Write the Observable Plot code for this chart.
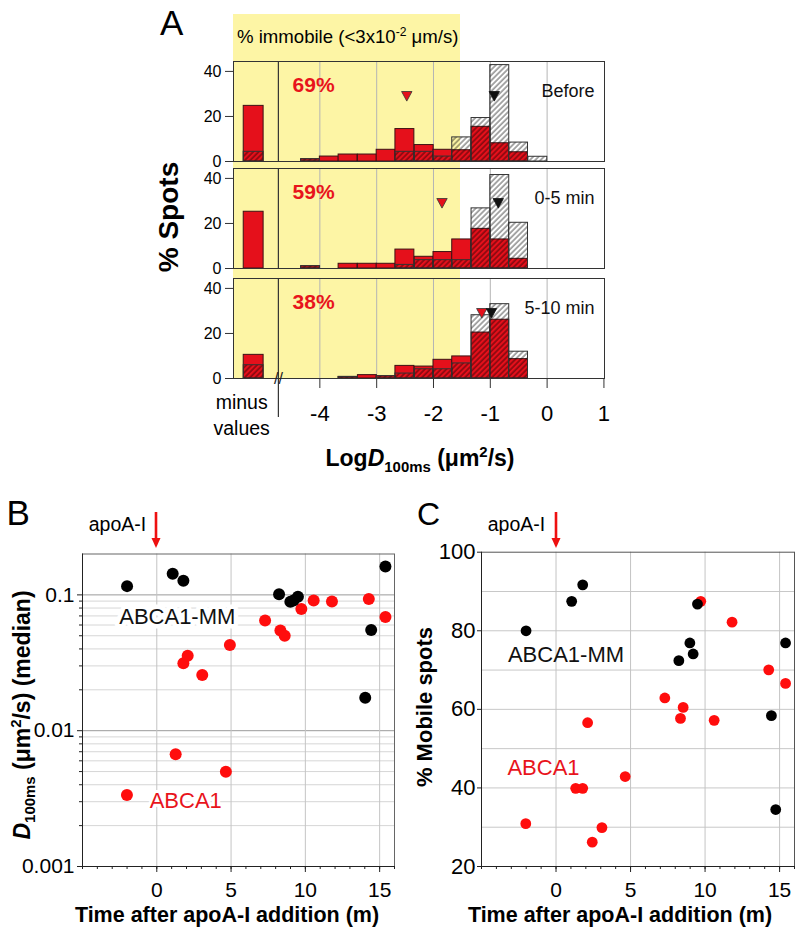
<!DOCTYPE html>
<html><head><meta charset="utf-8">
<script src="https://cdn.jsdelivr.net/npm/d3@7"></script>
<script src="https://cdn.jsdelivr.net/npm/@observablehq/plot@0.6"></script>
<style>
body{margin:0;background:#fff;font-family:"Liberation Sans",Arial,Helvetica,sans-serif;}
#root{position:relative;width:796px;height:932px;overflow:hidden;background:#fff;}
.lab{position:absolute;line-height:1;white-space:nowrap;color:#000;}
sub,sup{font-size:0.65em;line-height:0;}
</style></head><body><div id="root"></div>
<script>
// ================= DATA =================
// Panel A: histogram of log D (bins of 1/3 log unit), % of spots
const binStarts = [-4.33,-4,-3.67,-3.33,-3,-2.67,-2.33,-2,-1.67,-1.33,-1,-0.67,-0.33];
const periods = ["Before","0-5 min","5-10 min"];
const immobilePct = ["69%","59%","38%"];
// "minus values" bar (ABCA1 solid red, ABCA1-MM hatched)
const abca1Minus = [24.7, 25.2, 10.5];
const mmMinus = [4.3, 0, 5.9];
// ABCA1 (solid red)
const abca1Before = [1.0, 2.2, 3.1, 3.1, 5.2, 14.4, 7.3, 5.2, 5.0, 15.4, 8.1, 4.1, 0];
const abca1Early  = [1.0, 0, 2.1, 2.1, 2.1, 8.4, 5.2, 7.3, 12.9, 17.6, 12.9, 4.3, 0];
const abca1Late   = [0, 0, 0.7, 1.5, 1.0, 5.6, 5.3, 8.3, 9.8, 20.4, 26.1, 8.6, 0];
// ABCA1-MM (hatched)
const mmBefore = [1.0, 0, 0, 0, 0, 4.3, 4.3, 2.2, 10.7, 19.3, 42.8, 8.4, 2.1];
const mmEarly  = [1.0, 0, 0, 0, 0, 1.6, 3.7, 3.7, 3.7, 26.7, 41.5, 20.3, 0];
const mmLate   = [0, 0, 0.7, 0, 1.0, 2.2, 4.1, 4.1, 6.7, 28.1, 33.0, 11.9, 0];
// median markers (log D)
const medianABCA1 = [-2.47, -1.85, -1.15];
const medianMM = [-0.93, -0.86, -0.98];
const immobileCut = Math.log10(0.03);
const xTicksA = [-4, -3, -2, -1, 0, 1];
const gridA = [-4, -3, -2, -1, 0];
const yTicksA = [0, 20, 40];

// Panel B: median D100ms vs time
const bBlackT = [-2.0, 1.07, 1.79, 8.23, 8.99, 9.2, 9.5, 14.03, 14.43, 15.39];
const bBlackD = [0.116, 0.143, 0.127, 0.101, 0.089, 0.091, 0.097, 0.0175, 0.0552, 0.162];
const bRedT = [-2.01, 1.27, 1.79, 2.08, 3.06, 4.65, 4.92, 7.29, 8.32, 8.61, 9.73, 10.56, 11.79, 14.27, 15.39];
const bRedD = [0.00336, 0.0067, 0.0314, 0.0357, 0.0257, 0.00499, 0.0428, 0.0647, 0.0546, 0.0501, 0.0788, 0.0908, 0.0893, 0.0934, 0.0686];
const bMajorY = [0.001, 0.01, 0.1];
const bMinorY = [0.002,0.003,0.004,0.005,0.006,0.007,0.008,0.009,0.02,0.03,0.04,0.05,0.06,0.07,0.08,0.09];

// Panel C: % mobile spots vs time
const cBlackT = [-2.01, 1.05, 1.79, 8.24, 8.98, 9.2, 9.49, 14.45, 14.74, 15.4];
const cBlackP = [80.0, 87.5, 91.7, 72.4, 76.9, 74.1, 86.8, 58.4, 34.5, 76.9];
const cRedT = [-2.03, 1.32, 1.79, 2.12, 2.43, 3.08, 4.64, 7.3, 8.35, 8.53, 9.71, 10.61, 11.81, 14.27, 15.4];
const cRedP = [30.9, 39.9, 39.9, 56.6, 26.2, 29.9, 42.9, 62.9, 57.7, 60.5, 87.5, 57.2, 82.2, 70.05, 66.6];
const cTicksY = [20, 40, 60, 80, 100];
const cGridY = [30, 40, 50, 60, 70, 80, 90];

const timeTicks = [0, 5, 10, 15];
const timeMinor = [-5,-4,-3,-2,-1,0,1,2,3,4,5,6,7,8,9,10,11,12,13,14,15,16];

// ================= LAYOUT / STYLE =================
const FONT = '"Liberation Sans", Arial, Helvetica, sans-serif';
const RED_BAR = "#e5101b";
const RED_PT = "#ff0d0d";
const YELLOW = "#fdf5a5";
const xDomainA = [-5.52, 1.01];
const minusSlot = [-5.34, -4.99];   // where the "minus values" category sits on the broken axis
const breakX = -4.73;               // axis break
const binW = 1 / 3;
const yTopA = 44.4;
const medianMarkY = 29;
const pctLabelPos = {x: -4.11, y: 34};

const root = document.getElementById("root");
function put(el, left, top) {
  el.style.position = "absolute"; el.style.left = left + "px"; el.style.top = top + "px";
  root.appendChild(el); return el;
}
function label(html, x, baseline, size, opts = {}) {
  const d = document.createElement("div");
  d.className = "lab";
  d.innerHTML = html;
  d.style.fontSize = size + "px";
  if (opts.bold) d.style.fontWeight = "bold";
  if (opts.color) d.style.color = opts.color;
  const shift = opts.anchor === "middle" ? "-50%" : opts.anchor === "end" ? "-100%" : "0";
  d.style.transform = `translateX(${shift})`;
  return put(d, x, baseline - 0.8465 * size);
}
function vlabel(html, cx, cy, size, opts = {}) {
  const d = document.createElement("div");
  d.className = "lab";
  d.innerHTML = html;
  d.style.fontSize = size + "px";
  if (opts.bold) d.style.fontWeight = "bold";
  d.style.transform = "translate(-50%,-50%) rotate(-90deg)";
  return put(d, cx, cy);
}
function addHatch(svg, id) {
  const ns = "http://www.w3.org/2000/svg";
  const defs = document.createElementNS(ns, "defs");
  const pat = document.createElementNS(ns, "pattern");
  pat.setAttribute("id", id); pat.setAttribute("patternUnits", "userSpaceOnUse");
  pat.setAttribute("width", "3.8"); pat.setAttribute("height", "3.8");
  pat.setAttribute("patternTransform", "rotate(45)");
  const ln = document.createElementNS(ns, "line");
  ln.setAttribute("x1", "1"); ln.setAttribute("y1", "0"); ln.setAttribute("x2", "1"); ln.setAttribute("y2", "3.8");
  ln.setAttribute("stroke", "#000"); ln.setAttribute("stroke-opacity", "0.62"); ln.setAttribute("stroke-width", "1.1");
  pat.appendChild(ln); defs.appendChild(pat);
  svg.insertBefore(defs, svg.firstChild);
}
const triDown = {
  draw(ctx, size) {
    const r = Math.sqrt(size / Math.PI);
    ctx.moveTo(-r, -r * 0.9); ctx.lineTo(r, -r * 0.9); ctx.lineTo(0, r * 0.95); ctx.closePath();
  }
};
const hyphen = d => String(d);

// ================= PANEL A =================
const redSeries = [abca1Before, abca1Early, abca1Late];
const mmSeries = [mmBefore, mmEarly, mmLate];
const frameTops = [61, 168, 277.5];
let scaleA = null;
function histPanel(i) {
  const rows = binStarts.map((b, j) => ({x1: b, x2: b + binW, red: redSeries[i][j], mm: mmSeries[i][j]}));
  rows.push({x1: minusSlot[0], x2: minusSlot[1], red: abca1Minus[i], mm: mmMinus[i]});
  const isBottom = i === 2;
  const mt = 12, mb = isBottom ? 75 : 8;
  const hid = "hatchA" + i;
  const marks = [
    Plot.ruleX(gridA, {stroke: "#b5b5b5", strokeWidth: 1}),
    Plot.ruleX([breakX], {stroke: "#333", strokeWidth: 1.2}),
    Plot.rect(rows.filter(d => d.red > 0), {x1: "x1", x2: "x2", y1: 0, y2: "red", fill: RED_BAR, stroke: "#3b1214", strokeWidth: 1}),
    Plot.rect(rows.filter(d => d.mm > 0), {x1: "x1", x2: "x2", y1: 0, y2: "mm", fill: `url(#${hid})`, stroke: "#333", strokeWidth: 1}),
    Plot.frame({stroke: "#333", strokeWidth: 1}),
    Plot.axisY({ticks: yTicksA, tickSize: 8, tickPadding: 4, fontSize: 16, stroke: "#333", label: null}),
    Plot.text([immobilePct[i]], {x: pctLabelPos.x, y: pctLabelPos.y, text: d => d, fill: "#e8141c", fontWeight: "bold", fontSize: 21}),
    Plot.text([periods[i]], {frameAnchor: "top-right", textAnchor: "end", dx: -10, dy: 23, text: d => d, fontSize: 18, fill: "#111"}),
    Plot.dot([medianABCA1[i]], {x: d => d, y: medianMarkY, symbol: triDown, r: 5.2, fill: RED_BAR, stroke: "#333", strokeWidth: 0.8}),
    Plot.dot([medianMM[i]], {x: d => d, y: medianMarkY, symbol: triDown, r: 5.2, fill: "#111", stroke: "#111", strokeWidth: 0.8})
  ];
  if (isBottom) {
    marks.push(
      Plot.axisX({ticks: xTicksA, tickSize: 10, tickPadding: 17, fontSize: 22, tickFormat: hyphen, stroke: "#333", label: null}),
      Plot.ruleX([breakX], {insetTop: 100, insetBottom: -39, stroke: "#333", strokeWidth: 1.2}),
      Plot.text(["//"], {x: breakX, y: 0, text: d => d, fontSize: 16, fill: "#222"})
    );
  }
  const svg = Plot.plot({
    width: 796, height: mt + 100 + mb,
    marginLeft: 233, marginRight: 192, marginTop: mt, marginBottom: mb,
    style: {fontFamily: FONT, background: "transparent", overflow: "visible"},
    x: {domain: xDomainA, axis: isBottom ? undefined : null},
    y: {domain: [0, yTopA]},
    marks
  });
  addHatch(svg, hid);
  if (!scaleA) scaleA = svg.scale("x");
  put(svg, 0, frameTops[i] - mt);
  return svg;
}
// yellow "immobile" band is placed first (behind plots), computed from the x scale
const yellow = document.createElement("div");
root.appendChild(yellow);
[0, 1, 2].forEach(histPanel);
{
  const l = scaleA.apply(xDomainA[0]), r = scaleA.apply(immobileCut);
  Object.assign(yellow.style, {position: "absolute", left: l + "px", top: "14px", width: (r - l) + "px", height: (377.5 - 14) + "px", background: YELLOW});
}
label("% immobile (&lt;3x10<sup>-2</sup> μm/s)", 237, 44, 18.6);
label("A", 160, 35, 35);
vlabel("% Spots", 169, 217, 28, {bold: true});
label("minus", 241.7, 410, 19.5, {anchor: "middle"});
label("values", 241.7, 436, 19.5, {anchor: "middle"});
label("Log<i>D</i><sub>100ms</sub> (μm<sup>2</sup>/s)", 420, 466, 23, {bold: true, anchor: "middle"});

// ================= PANEL B =================
function arrow(x, color) {
  const ns = "http://www.w3.org/2000/svg";
  const s = document.createElementNS(ns, "svg");
  s.setAttribute("width", "14"); s.setAttribute("height", "40");
  s.innerHTML = `<line x1="7" y1="0" x2="7" y2="28" stroke="${color}" stroke-width="2.6"/><path d="M2.5,26 L11.5,26 L7,36 Z" fill="${color}"/>`;
  put(s, x - 7, 512);
}
const bBlack = bBlackT.map((t, k) => ({t, d: bBlackD[k]}));
const bRed = bRedT.map((t, k) => ({t, d: bRedD[k]}));
const plotB = Plot.plot({
  width: 400, height: 13.5 + 312.5 + 50,
  marginLeft: 82, marginRight: 6, marginTop: 13.5, marginBottom: 50,
  style: {fontFamily: FONT, background: "transparent", overflow: "visible"},
  x: {domain: [-5, 16]},
  y: {type: "log", domain: [0.001, 0.2]},
  marks: [
    Plot.ruleY(bMinorY, {stroke: "#d6d6d6"}),
    Plot.ruleY(bMajorY, {stroke: "#9a9a9a"}),
    Plot.ruleX(timeTicks, {stroke: "#c4c4c4"}),
    Plot.frame({stroke: "#666"}),
    Plot.ruleX([-5], {stroke: "#222"}),
    Plot.ruleY([0.001], {stroke: "#222"}),
    Plot.axisY({ticks: bMajorY, tickFormat: d => String(d), tickSize: 5, tickPadding: 3, fontSize: 21, stroke: "#222", label: null}),
    Plot.axisY({ticks: bMinorY, tickFormat: () => "", tickSize: 3, stroke: "#222", label: null}),
    Plot.axisX({ticks: timeTicks, tickSize: 6, tickPadding: 10, fontSize: 21, stroke: "#222", label: null}),
    Plot.axisX({ticks: timeMinor, tickFormat: () => "", tickSize: 3, stroke: "#222", label: null}),
    Plot.text(["ABCA1-MM"], {x: 1.38, y: 0.069, text: d => d, fontSize: 22, fill: "#111", stroke: "#fff", strokeWidth: 9}),
    Plot.text(["ABCA1"], {x: 1.95, y: 0.00306, text: d => d, fontSize: 22, fill: "#e8141c", stroke: "#fff", strokeWidth: 6}),
    Plot.dot(bRed, {x: "t", y: "d", r: 6, fill: RED_PT}),
    Plot.dot(bBlack, {x: "t", y: "d", r: 6, fill: "#000"})
  ]
});
put(plotB, 0, 540);
arrow(plotB.scale("x").apply(0), "#ee1010");
label("apoA-I", 117.5, 531.7, 19.5, {anchor: "middle"});
label("B", 6.5, 524.5, 35);
vlabel("<i>D</i><sub>100ms</sub> (μm<sup>2</sup>/s) (median)", 22, 715, 23, {bold: true});
label("Time after apoA-I addition (m)", 227, 923, 21.5, {bold: true, anchor: "middle"});

// ================= PANEL C =================
const cBlack = cBlackT.map((t, k) => ({t, p: cBlackP[k]}));
const cRed = cRedT.map((t, k) => ({t, p: cRedP[k]}));
const plotC = Plot.plot({
  width: 396, height: 11.7 + 314.3 + 50,
  marginLeft: 81, marginRight: 2, marginTop: 11.7, marginBottom: 50,
  style: {fontFamily: FONT, background: "transparent", overflow: "visible"},
  x: {domain: [-5, 16]},
  y: {domain: [20, 100]},
  marks: [
    Plot.ruleY(cGridY, {stroke: "#c8c8c8"}),
    Plot.ruleX(timeTicks, {stroke: "#c4c4c4"}),
    Plot.frame({stroke: "#555"}),
    Plot.ruleX([-5], {stroke: "#222"}),
    Plot.ruleY([20], {stroke: "#222"}),
    Plot.axisY({ticks: cTicksY, tickSize: 4, tickPadding: 2, fontSize: 22, stroke: "#222", label: null}),
    Plot.axisX({ticks: timeTicks, tickSize: 6, tickPadding: 10, fontSize: 21, stroke: "#222", label: null}),
    Plot.axisX({ticks: timeMinor, tickFormat: () => "", tickSize: 3, stroke: "#222", label: null}),
    Plot.text(["ABCA1-MM"], {x: 0.67, y: 73.9, text: d => d, fontSize: 22, fill: "#111"}),
    Plot.text(["ABCA1"], {x: -0.84, y: 45, text: d => d, fontSize: 22, fill: "#e8141c"}),
    Plot.dot(cRed, {x: "t", y: "p", r: 5.4, fill: RED_PT}),
    Plot.dot(cBlack, {x: "t", y: "p", r: 5.4, fill: "#000"})
  ]
});
put(plotC, 400, 540);
arrow(400 + plotC.scale("x").apply(0), "#ee1010");
label("apoA-I", 487.7, 531.7, 19.5);
label("C", 417, 525, 32);
vlabel("% Mobile spots", 425, 707, 22, {bold: true});
label("Time after apoA-I addition (m)", 620, 923, 21.5, {bold: true, anchor: "middle"});
</script></body></html>
